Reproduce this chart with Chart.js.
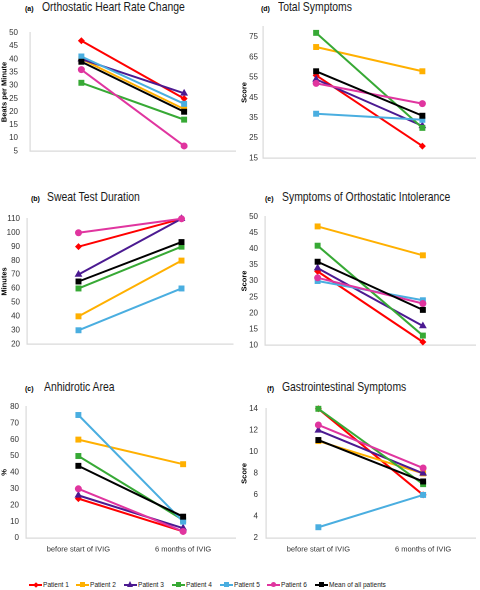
<!DOCTYPE html>
<html>
<head>
<meta charset="utf-8">
<script src="https://cdn.jsdelivr.net/npm/chart.js@4.4.1/dist/chart.umd.min.js"></script>
<style>
html,body{margin:0;padding:0;background:#fff;}
body{width:480px;height:590px;position:relative;overflow:hidden;font-family:"Liberation Sans",Arial,sans-serif;}
canvas{position:absolute;}
.ttl{position:absolute;white-space:nowrap;color:#1a1a1a;line-height:1;}
.ttl b{font-size:7px;color:#000;position:absolute;top:4px;}
.ttl span{position:absolute;font-size:13px;top:-1px;transform:scaleX(0.8);transform-origin:0 0;}
#legend{position:absolute;left:29px;top:580px;height:10px;font-size:8px;color:#222;}
.li{position:absolute;top:0;height:10px;}
.li i{position:absolute;top:4px;left:0;width:13px;height:2px;}
.li em{position:absolute;left:4px;top:2px;width:5px;height:5px;}
.li span{position:absolute;left:14px;top:0;white-space:nowrap;line-height:10px;transform:scaleX(0.82);transform-origin:0 0;}
</style>
</head>
<body>
<div id="titles"></div>
<div id="legend"></div>
<script>
// ---- data ----
const categories = ['before start of IVIG', '6 months of IVIG'];
const seriesNames = ['Patient 1','Patient 2','Patient 3','Patient 4','Patient 5','Patient 6','Mean of all patients'];
const seriesColors = ['#ff0000','#ffb000','#4b1a91','#37a935','#4aaee0','#e0359f','#000000'];
const seriesMarkers = ['rectRot','rect','triangle','rect','rect','circle','rect'];

// (a) Orthostatic Heart Rate Change
const hrBefore = [47, 40, 40, 31, 41, 36, 39];
const hrAfter  = [25, 21, 27, 17, 23, 7, 20];
const hrTicks  = [5, 10, 15, 20, 25, 30, 35, 40, 45, 50];
// (b) Sweat Test Duration
const sweatBefore = [90, 40, 70, 60, 30, 100, 65];
const sweatAfter  = [110, 80, 110, 90, 60, 110, 93.3];
const sweatTicks  = [20, 30, 40, 50, 60, 70, 80, 90, 100, 110];
// (c) Anhidrotic Area
const anhBefore = [24, 60, 26, 50, 75, 30, 44];
const anhAfter  = [4, 45, 6, 11, 10, 4, 13];
const anhTicks  = [0, 10, 20, 30, 40, 50, 60, 70, 80];
// (d) Total Symptoms
const totBefore = [56, 70, 54, 77, 37, 52, 58];
const totAfter  = [21, 58, 31, 30, 34, 42, 36];
const totTicks  = [15, 25, 35, 45, 55, 65, 75];
// (e) Symptoms of Orthostatic Intolerance
const oiBefore = [33, 47, 34, 41, 30, 31, 36];
const oiAfter  = [11, 38, 16, 13, 24, 23, 21];
const oiTicks  = [10, 15, 20, 25, 30, 35, 40, 45, 50];
// (f) Gastrointestinal Symptoms
const giBefore = [14, 11, 12, 14, 3, 12.5, 11.1];
const giAfter  = [6, 8, 8, 7, 6, 8.5, 7.25];
const giTicks  = [2, 4, 6, 8, 10, 12, 14];

// ---- layout ----
const panels = [
  {tag:'(a)', title:'Orthostatic Heart Rate Change', before:hrBefore, after:hrAfter, ticks:hrTicks, min:5, max:50, axisTitle:'Beats per Minute',
   left:0, axisX:30, right:237, top:23, bottom:160, showX:false, tickPad:12, tx:25, tmx:42, ty:7},
  {tag:'(b)', title:'Sweat Test Duration', before:sweatBefore, after:sweatAfter, ticks:sweatTicks, min:20, max:110, axisTitle:'Minutes',
   left:0, axisX:27, right:233, top:214, bottom:348, showX:false, tickPad:7, tx:31, tmx:47, ty:197},
  {tag:'(c)', title:'Anhidrotic Area', before:anhBefore, after:anhAfter, ticks:anhTicks, min:0, max:80, axisTitle:'%',
   left:0, axisX:26, right:238, top:402, bottom:538, showX:true, tickPad:7, tx:25, tmx:44, ty:387},
  {tag:'(d)', title:'Total Symptoms', before:totBefore, after:totAfter, ticks:totTicks, min:15, max:80, axisTitle:'Score',
   left:240, axisX:263, right:478, top:24, bottom:160, showX:false, tickPad:5, tx:261, tmx:278, ty:7},
  {tag:'(e)', title:'Symptoms of Orthostatic Intolerance', before:oiBefore, after:oiAfter, ticks:oiTicks, min:10, max:50, axisTitle:'Score',
   left:240, axisX:265, right:478, top:212, bottom:349, showX:false, tickPad:7, tx:265, tmx:282, ty:197},
  {tag:'(f)', title:'Gastrointestinal Symptoms', before:giBefore, after:giAfter, ticks:giTicks, min:2, max:14, axisTitle:'Score',
   left:240, axisX:266, right:478, top:403, bottom:538, showX:true, tickPad:8, tx:267, tmx:282, ty:387}
];

const fam = '"Liberation Sans",Arial,sans-serif';
const titlesDiv = document.getElementById('titles');

panels.forEach(p => {
  const t = document.createElement('div');
  t.className = 'ttl';
  t.style.left = '0px'; t.style.top = (p.ty - 6) + 'px';
  t.innerHTML = '<b style="left:' + p.tx + 'px">' + p.tag + '</b><span style="left:' + p.tmx + 'px">' + p.title + '</span>';
  titlesDiv.appendChild(t);

  const padTop = 7;
  const xh = p.showX ? 22 : 8;
  const cTop = p.top - padTop;
  const cH = p.bottom + xh - cTop;
  const cW = 240;
  const cv = document.createElement('canvas');
  cv.style.left = p.left + 'px';
  cv.style.top = cTop + 'px';
  cv.style.width = cW + 'px';
  cv.style.height = cH + 'px';
  cv.width = cW; cv.height = cH;
  document.body.appendChild(cv);

  const datasets = seriesNames.map((name, i) => ({
    label: name,
    data: [p.before[i], p.after[i]],
    borderColor: seriesColors[i],
    backgroundColor: seriesColors[i],
    borderWidth: 2,
    pointStyle: seriesMarkers[i],
    pointRadius: seriesMarkers[i] === 'circle' ? 3.5 : (seriesMarkers[i] === 'triangle' ? 4.5 : (seriesMarkers[i] === 'rectRot' ? 3.5 : 4.2)),
    pointBorderWidth: 0,
    pointBackgroundColor: seriesColors[i],
    order: 6 - i,
    tension: 0,
    clip: false
  }));

  new Chart(cv, {
    type: 'line',
    data: { labels: categories, datasets },
    options: {
      responsive: false,
      animation: false,
      devicePixelRatio: 2,
      layout: { padding: { top: padTop, right: (p.left + cW) - p.right, left: 0, bottom: 0 } },
      plugins: { legend: { display: false }, tooltip: { enabled: false } },
      scales: {
        x: {
          offset: true,
          grid: { display: false, drawTicks: false },
          border: { color: '#d9d9d9', width: 1.2 },
          ticks: { display: p.showX, font: { family: fam, size: 7.5 }, color: '#333', padding: 7, maxRotation: 0 },
          afterFit: s => { s.height = xh; }
        },
        y: {
          min: p.min, max: p.max,
          grid: { display: false, drawTicks: false },
          border: { color: '#d9d9d9', width: 1.2 },
          ticks: { font: { family: fam, size: 8 }, color: '#333', padding: p.tickPad },
          afterBuildTicks: s => { s.ticks = p.ticks.map(v => ({ value: v })); },
          afterFit: s => { s.width = p.axisX - p.left; },
          title: { display: true, text: p.axisTitle, font: { family: fam, size: 7.5, weight: 'bold' }, color: '#000', padding: 0 }
        }
      }
    }
  });
});

// legend
const legendPos = [0, 47, 95, 143, 191, 238, 286];
const leg = document.getElementById('legend');
seriesNames.forEach((name, i) => {
  const d = document.createElement('div');
  d.className = 'li';
  d.style.left = legendPos[i] + 'px';
  const m = seriesMarkers[i];
  let mk;
  if (m === 'circle') mk = '<em style="background:' + seriesColors[i] + ';border-radius:50%"></em>';
  else if (m === 'triangle') mk = '<em style="width:0;height:0;left:3px;top:1px;border-left:3.5px solid transparent;border-right:3.5px solid transparent;border-bottom:6px solid ' + seriesColors[i] + '"></em>';
  else if (m === 'rectRot') mk = '<em style="background:' + seriesColors[i] + ';transform:rotate(45deg);width:4px;height:4px;left:4.5px;top:3px"></em>';
  else mk = '<em style="background:' + seriesColors[i] + '"></em>';
  d.innerHTML = '<i style="background:' + seriesColors[i] + '"></i>' + mk + '<span>' + name + '</span>';
  leg.appendChild(d);
});
</script>
</body>
</html>
